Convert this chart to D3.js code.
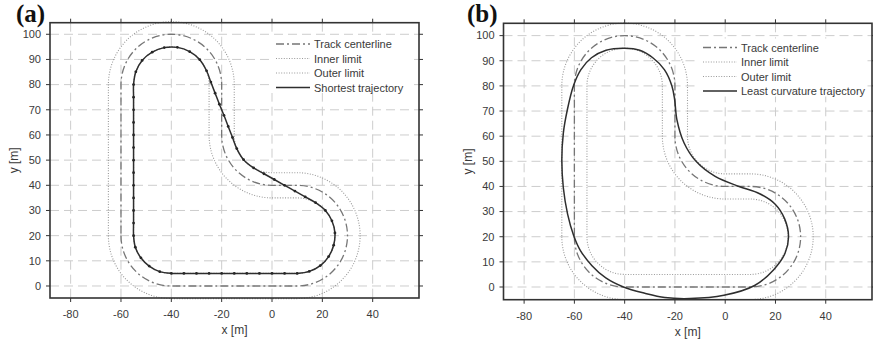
<!DOCTYPE html>
<html>
<head>
<meta charset="utf-8">
<script src="https://cdn.jsdelivr.net/npm/d3@7"></script>
<style>
  html, body { margin: 0; padding: 0; background: #fff; }
  svg { display: block; }
  text { font-family: "Liberation Sans", Arial, sans-serif; fill: #3a3a3a; }
</style>
</head>
<body>
<svg id="chart" width="873" height="342"></svg>
<script>
// ---------------- data ----------------
const xTicks = [-80, -60, -40, -20, 0, 20, 40];
const yTicks = [0, 10, 20, 30, 40, 50, 60, 70, 80, 90, 100];

// track corners (centre x, centre y, start / end angle in degrees, math orientation)
const cornerCx = [-40, 10, 0, -40];
const cornerCy = [20, 20, 60, 80];
const cornerStart = [180, -90, -90, 0];
const cornerEnd = [270, 90, -180, 180];
const centerlineRadius = [20, 20, 20, 20];
const innerRadius = [15, 15, 25, 15];
const outerRadius = [25, 25, 15, 25];

// (a) shortest trajectory, discretisation points [x, y]
const shortestX = [
  -55, -55, -55, -55, -55, -55, -55, -55, -55, -55, -55, -55, -55,
  -54.1, -51.6, -47.6, -42.8, -37.6, -32.7, -28.7, -26.0,
  -24.3, -22.6, -20.9, -19.1, -17.4, -15.7, -14.0,
  -11.3, -7.3,
  -3.2, 0.9, 5.0, 9.1, 13.2, 17.3,
  21.2, 23.8, 25.0, 24.5, 22.5, 19.2, 14.8, 10,
  5, 0, -5, -10, -15, -20, -25, -30, -35, -40,
  -44.6, -48.8, -52.1, -54.3
];
const shortestY = [
  20, 25, 30, 35, 40, 45, 50, 55, 60, 65, 70, 75, 80,
  85.1, 89.6, 92.9, 94.7, 94.8, 93.1, 89.9, 85.5,
  81.0, 76.6, 72.2, 67.8, 63.4, 59.0, 54.6,
  50.2, 46.9,
  44.6, 42.3, 40.0, 37.7, 35.4, 33.1,
  30.0, 25.9, 21.1, 16.2, 11.7, 8.1, 5.8, 5,
  5, 5, 5, 5, 5, 5, 5, 5, 5, 5,
  5.7, 7.9, 11.2, 15.4
];

// (b) least curvature trajectory [x, y]
const leastX = [
  -40, -34, -28.8, -24.2, -21.2, -20.1, -19.2, -16.4, -11.6, -4.0, 5.5, 13.7, 19.8, 23.7, 25.2,
  23.8, 19.2, 11.7, -0.5, -14, -24, -32, -40.5, -47.5, -53, -57.6, -60.3, -62.7, -64.4, -65,
  -64.4, -62.8, -60.4, -57.4, -53.2, -47.4
];
const leastY = [
  95, 94.2, 91.2, 86.5, 80, 74.4, 66.5, 57.4, 50, 44, 40, 37.1, 33, 27, 20,
  13.4, 6.8, 0.6, -3.3, -4.6, -4.2, -2.5, 0, 3.6, 8.5, 14.5, 20.5, 29, 39.5, 50.5,
  61.2, 70.5, 80, 86.5, 91.2, 94.2
];

const legendLabelsA = ["Track centerline", "Inner limit", "Outer limit", "Shortest trajectory"];
const legendLabelsB = ["Track centerline", "Inner limit", "Outer limit", "Least curvature trajectory"];

// ---------------- drawing ----------------
const svg = d3.select("#chart");

const styles = [
  { stroke: "#767676", width: 1.3, dash: "8,3,2,3" },
  { stroke: "#9a9a9a", width: 1.1, dash: "1,1.6" },
  { stroke: "#9a9a9a", width: 1.1, dash: "1,1.6" },
  { stroke: "#2e2e2e", width: 1.5, dash: null }
];

function drawPanel(cfg) {
  const g = svg.append("g");
  const x = d3.scaleLinear().domain([-88.2, 58.4]).range([cfg.left, cfg.right]);
  const y = d3.scaleLinear().domain(cfg.yDom).range([cfg.bottom, cfg.top]);
  const k = x(1) - x(0);

  // grid
  g.append("g").selectAll("line").data(xTicks).join("line")
    .attr("x1", d => x(d)).attr("x2", d => x(d))
    .attr("y1", cfg.top).attr("y2", cfg.bottom)
    .attr("stroke", "#cdcdcd").attr("stroke-width", 1).attr("stroke-dasharray", "9,5");
  g.append("g").selectAll("line").data(yTicks).join("line")
    .attr("x1", cfg.left).attr("x2", cfg.right)
    .attr("y1", d => y(d)).attr("y2", d => y(d))
    .attr("stroke", "#cdcdcd").attr("stroke-width", 1).attr("stroke-dasharray", "9,5");

  // track
  function trackPath(radii) {
    const p = d3.path();
    radii.forEach((r, i) => {
      const a0 = -cornerStart[i] * Math.PI / 180;
      const a1 = -cornerEnd[i] * Math.PI / 180;
      const ccw = cornerEnd[i] > cornerStart[i];
      p.arc(x(cornerCx[i]), y(cornerCy[i]), r * k, a0, a1, ccw);
    });
    p.closePath();
    return p.toString();
  }
  [centerlineRadius, innerRadius, outerRadius].forEach((radii, i) => {
    g.append("path").attr("d", trackPath(radii))
      .attr("fill", "none").attr("stroke", styles[i].stroke)
      .attr("stroke-width", styles[i].width)
      .attr("stroke-dasharray", styles[i].dash);
  });

  // trajectory
  const pts = cfg.trajX.map((v, i) => [v, cfg.trajY[i]]);
  const line = d3.line().x(d => x(d[0])).y(d => y(d[1]))
    .curve(d3.curveCatmullRomClosed.alpha(0.5));
  g.append("path").attr("d", line(pts))
    .attr("fill", "none").attr("stroke", styles[3].stroke).attr("stroke-width", styles[3].width);
  if (cfg.markers) {
    g.append("g").selectAll("circle").data(pts).join("circle")
      .attr("cx", d => x(d[0])).attr("cy", d => y(d[1]))
      .attr("r", 1.4).attr("fill", "#262626");
  }

  // legend
  const lg = g.append("g");
  lg.append("rect").attr("x", cfg.legX - 6).attr("y", cfg.legY - 9)
    .attr("width", cfg.legW).attr("height", 58).attr("fill", "#fff");
  cfg.labels.forEach((lab, i) => {
    const yy = cfg.legY + i * 14.5;
    lg.append("line").attr("x1", cfg.legX).attr("x2", cfg.legX + 34)
      .attr("y1", yy).attr("y2", yy)
      .attr("stroke", styles[i].stroke).attr("stroke-width", styles[i].width)
      .attr("stroke-dasharray", styles[i].dash);
    lg.append("text").attr("x", cfg.legX + 38).attr("y", yy + 4)
      .attr("font-size", 11).text(lab);
  });

  // frame
  g.append("rect").attr("x", cfg.left).attr("y", cfg.top)
    .attr("width", cfg.right - cfg.left).attr("height", cfg.bottom - cfg.top)
    .attr("fill", "none").attr("stroke", "#333").attr("stroke-width", 1.6);

  // ticks outward on all sides
  const tk = g.append("g").attr("stroke", "#333").attr("stroke-width", 1);
  xTicks.forEach(d => {
    tk.append("line").attr("x1", x(d)).attr("x2", x(d)).attr("y1", cfg.bottom).attr("y2", cfg.bottom + 4);
    tk.append("line").attr("x1", x(d)).attr("x2", x(d)).attr("y1", cfg.top).attr("y2", cfg.top - 4);
  });
  yTicks.forEach(d => {
    tk.append("line").attr("x1", cfg.left).attr("x2", cfg.left - 4).attr("y1", y(d)).attr("y2", y(d));
    tk.append("line").attr("x1", cfg.right).attr("x2", cfg.right + 4).attr("y1", y(d)).attr("y2", y(d));
  });

  // tick labels
  g.append("g").selectAll("text").data(xTicks).join("text")
    .attr("x", d => x(d)).attr("y", cfg.bottom + 20)
    .attr("text-anchor", "middle").attr("font-size", 11).text(d => d);
  g.append("g").selectAll("text").data(yTicks).join("text")
    .attr("x", cfg.left - 9).attr("y", d => y(d)).attr("dy", "0.35em")
    .attr("text-anchor", "end").attr("font-size", 11).text(d => d);

  // axis titles
  g.append("text").attr("x", (cfg.left + cfg.right) / 2).attr("y", cfg.bottom + 36)
    .attr("text-anchor", "middle").attr("font-size", 12).text("x [m]");
  g.append("text")
    .attr("transform", `translate(${cfg.left - 36},${(cfg.top + cfg.bottom) / 2}) rotate(-90)`)
    .attr("text-anchor", "middle").attr("dy", "0.35em").attr("font-size", 12).text("y [m]");

  // panel label
  g.append("text").attr("x", cfg.tagX).attr("y", 21.5)
    .style("font-family", "'Liberation Serif', 'Times New Roman', serif")
    .style("fill", "#111").attr("font-weight", "bold").attr("font-size", 25).text(cfg.tag);
}

drawPanel({
  left: 50, right: 419, top: 22.7, bottom: 298, yDom: [-4.77, 104.6],
  trajX: shortestX, trajY: shortestY, markers: true,
  labels: legendLabelsA, legX: 276, legY: 44, legW: 142, tag: "(a)", tagX: 16
});
drawPanel({
  left: 503.5, right: 872, top: 23.3, bottom: 299.7, yDom: [-5.05, 104.9],
  trajX: leastX, trajY: leastY, markers: false,
  labels: legendLabelsB, legX: 703, legY: 47.5, legW: 168, tag: "(b)", tagX: 467
});
</script>
</body>
</html>
